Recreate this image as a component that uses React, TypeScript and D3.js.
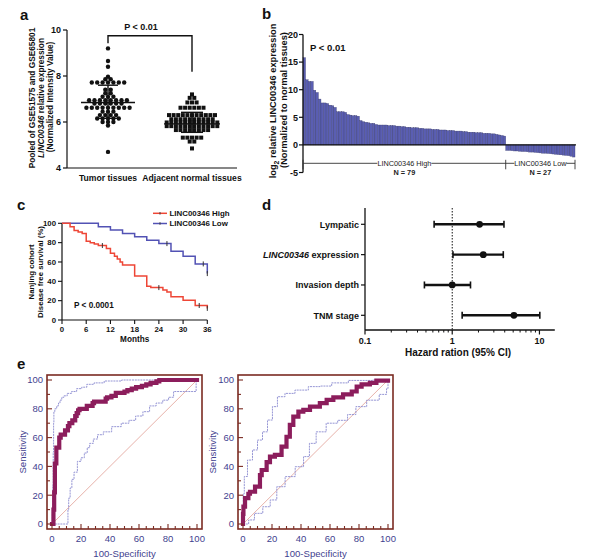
import React from 'react';
import * as d3 from 'd3';

const FONT = "'Liberation Sans', Arial, Helvetica, sans-serif";

// ---------- Panel a ----------
const groupsA = ['Tumor tissues', 'Adjacent normal tissues'];
const ticksA = [4, 6, 8, 10];
const tumorValues = [
  9.2, 8.65, 8.4, 7.97, 7.86, 7.86,
  7.72, 7.72, 7.72, 7.72, 7.72, 7.72, 7.72,
  7.4, 7.4, 7.25, 7.25, 7.1, 7.1, 7.1,
  6.95, 6.95, 6.95, 6.95, 6.95, 6.95, 6.95, 6.95,
  6.8, 6.8, 6.8, 6.8, 6.8, 6.8,
  6.62, 6.62, 6.62, 6.62, 6.62, 6.62, 6.62, 6.62, 6.62,
  6.45, 6.45, 6.45, 6.3, 6.3, 6.3, 6.3,
  6.15, 6.15, 6.15, 6.15, 6.15, 6.0, 6.0, 6.0, 5.85, 4.7,
];
const normalValues = [
  7.2, 7.05, 7.05, 6.85, 6.85, 6.85,
  6.62, 6.62, 6.62, 6.62, 6.62, 6.62,
  6.3, 6.3, 6.3, 6.3, 6.3, 6.3, 6.3, 6.3, 6.3, 6.3, 6.3,
  6.12, 6.12, 6.12, 6.12, 6.12, 6.12, 6.12, 6.12, 6.12, 6.12,
  5.98, 5.98, 5.98, 5.98, 5.98, 5.98, 5.98, 5.98, 5.98, 5.98, 5.98, 5.98,
  5.82, 5.82, 5.82, 5.82, 5.82, 5.82, 5.82, 5.82, 5.82, 5.82, 5.82, 5.82,
  5.65, 5.65, 5.65, 5.65, 5.65, 5.65, 5.65, 5.65,
  5.32, 5.32, 5.32, 5.32, 5.32, 5.15, 5.15, 4.85,
];
const tumorSummary = [6.85, 7.6, 6.16]; // mean, +SD, -SD
const normalSummary = [5.92, 6.42, 5.55];

// ---------- Panel b ----------
const highValues = [
  15.8, 11.8, 11.5, 11.5, 9.9, 9.5, 8.3, 7.6, 7.6, 7.5, 7.2, 7.1, 6.8,
  6.0, 6.0, 6.0, 5.9, 5.5, 5.4, 5.3, 5.3, 5.2, 4.4,
  4.2, 4.1, 4.0, 3.9, 3.9,
  3.7, 3.6, 3.6, 3.6, 3.6, 3.5, 3.5, 3.5,
  3.4, 3.4, 3.3, 3.3, 3.2, 3.2, 3.1, 3.1, 3.1,
  3.0, 3.0, 2.9, 2.9, 2.9, 2.8, 2.8, 2.8, 2.7,
  2.7, 2.7, 2.6, 2.6, 2.6, 2.5, 2.5, 2.5, 2.4,
  2.4, 2.3, 2.3, 2.3, 2.2, 2.2, 2.2, 2.1,
  2.1, 2.1, 2.0, 2.0, 1.9, 1.8, 1.7, 1.6,
];
const lowValues = [
  -1.0, -1.0, -1.05, -1.1, -1.1, -1.15, -1.2, -1.2, -1.25, -1.3, -1.3, -1.35, -1.4,
  -1.45, -1.5, -1.5, -1.55, -1.6, -1.65, -1.7, -1.75, -1.8, -1.85, -1.9, -1.95, -2.05, -2.2,
];
const ticksB = [-5, 0, 5, 10, 15, 20];

// ---------- Panel c ----------
const kmHigh: [number, number][] = [
  [0, 100], [2, 96.5], [3, 92.5], [4, 91], [5, 89.5], [6, 81.5], [7, 80], [8, 78.5], [9, 77],
  [11, 74], [12, 69], [13, 66], [13.7, 63], [14.4, 60], [15, 57], [18, 45.5], [21, 35],
  [22, 33.5], [25, 31], [26, 29], [27, 24], [30, 20.5], [33, 15], [36, 12],
];
const kmLow: [number, number][] = [
  [0, 100], [9, 96.5], [12, 93], [15, 89.5], [18, 86], [21, 82.5], [24, 79], [27, 71],
  [30, 66], [33, 58], [36, 48],
];
const censorHigh = [10, 24, 34, 36];
const censorLow = [26, 35, 36];
const ticksCx = [0, 6, 12, 18, 24, 30, 36];
const ticksCy = [0, 20, 40, 60, 80, 100];

// ---------- Panel d ----------
const forestLabels = ['Lympatic', 'LINC00346 expression', 'Invasion depth', 'TNM stage'];
const forestHR = [2.06, 2.27, 1.0, 5.1];
const forestLo = [0.62, 1.02, 0.48, 1.3];
const forestHi = [3.92, 3.85, 1.62, 10.1];

// ---------- Panel e ----------
const roc1Main: [number, number][] = [
  [0, 0], [1, 0], [1.5, 10], [2, 22], [2, 34], [3, 42], [3, 50], [5, 53], [5, 57], [6, 60], [6, 62],
  [9, 62], [9, 64], [11, 65], [12, 68], [14, 70], [16, 72], [17, 75], [18, 77], [19, 79], [21, 80],
  [24, 80], [28, 82], [29, 84], [33, 85], [37, 85], [38, 87], [41, 88], [44, 89], [46, 91], [50, 91],
  [52, 92], [55, 93], [58, 94], [62, 95], [65, 96], [68, 97], [72, 98], [74, 99], [77, 100], [100, 100],
];
const roc1Upper: [number, number][] = [
  [0, 0], [0.5, 8], [0.7, 27], [1, 50], [1.2, 70], [1.4, 78], [2.5, 80], [4, 82], [5, 84], [6, 86],
  [7.5, 88], [9, 89], [12, 90.7], [15, 92], [19, 94], [22, 95], [26, 97], [32, 98], [40, 99.3],
  [56, 100], [100, 100],
];
const roc1Lower: [number, number][] = [
  [0, 0], [11, 0], [11, 10], [12, 18], [13, 25], [14.4, 31], [16, 36], [19, 43.5], [21, 46],
  [23.6, 49.3], [25, 53], [27, 56], [30, 59], [32.8, 62], [38, 64], [44.3, 67.6], [51.2, 70],
  [55, 72], [60.4, 75], [65, 78], [69.6, 82], [74, 84], [78.8, 86], [82, 88], [85.7, 92],
  [95, 92], [99.4, 92], [99.4, 100], [100, 100],
];
const roc2Main: [number, number][] = [
  [0, 0], [0.3, 7], [1.4, 12], [3.7, 18], [4.8, 21], [8.3, 22.4], [11.7, 26], [12.9, 34],
  [16.3, 37.5], [18.6, 43], [22, 46.8], [26.6, 48], [30, 53.7], [32.3, 60.6], [34.7, 68.8],
  [38.2, 74.5], [41.6, 78], [46.2, 79.2], [53, 81.5], [57.7, 84], [62.3, 86.2], [69, 88],
  [75, 90], [78.4, 92], [81.8, 95.4], [87.5, 97], [92, 98], [100, 99.5],
];
const roc2Upper: [number, number][] = [
  [0, 0], [0.4, 21], [1.4, 33], [4.8, 44.4], [8.3, 51.4], [11.7, 58.3], [15.2, 64], [18.6, 72.2],
  [22, 81.5], [25.5, 88.4], [32.4, 90.7], [39.3, 93], [50.8, 95.4], [55.4, 95.8], [66.9, 98],
  [78.4, 99.7], [100, 100],
];
const roc2Lower: [number, number][] = [
  [0, 0], [2.8, 0], [5, 2.8], [10.8, 7.4], [16.5, 12], [21, 16.7], [25.6, 25.9], [32.5, 32.9],
  [39.5, 39.8], [44, 46.8], [47.6, 56], [53.3, 64], [61.4, 70], [69.2, 72], [75, 76],
  [80.7, 81.5], [89.9, 86], [98, 90], [100, 94], [100, 100],
];
const ticksE = [0, 20, 40, 60, 80, 100];

function swarm(values: number[], spacing: number) {
  const out: { v: number; dx: number }[] = [];
  d3.groups(values, (v) => v).forEach(([v, arr]) => {
    const n = arr.length;
    arr.forEach((_, i) => out.push({ v, dx: (i - (n - 1) / 2) * spacing }));
  });
  return out;
}

function survAt(steps: [number, number][], t: number) {
  let s = steps[0][1];
  for (const [tt, ss] of steps) if (tt <= t) s = ss;
  return s;
}

function RocPanel({ x0, y0, main, upper, lower, labelX }: any) {
  const bw = 155, bh = 154, pad = 5;
  const x = d3.scaleLinear().domain([0, 100]).range([x0 + pad, x0 + bw - pad]);
  const y = d3.scaleLinear().domain([0, 100]).range([y0 + bh - pad, y0 + pad]);
  const lineStep = d3.line<[number, number]>().x((d) => x(d[0])).y((d) => y(d[1])).curve(d3.curveStep);
  const lineMain = d3.line<[number, number]>().x((d) => x(d[0])).y((d) => y(d[1])).curve(d3.curveStepBefore);
  const brown = '#7b2b22';
  const blue = '#3f3f8f';
  const leftTicks = d3.range(0, 101, 10);
  const bottomTicks = d3.range(0, 101, 5);
  return (
    <g>
      <line x1={x(0)} y1={y(0)} x2={x(100)} y2={y(100)} stroke="#e4a9a0" strokeWidth={0.9} />
      <path d={lineStep(upper) || ''} fill="none" stroke="#8a8ad0" strokeWidth={0.9} strokeDasharray="2 0.8" />
      <path d={lineStep(lower) || ''} fill="none" stroke="#8a8ad0" strokeWidth={0.9} strokeDasharray="2 0.8" />
      <path d={lineMain(main) || ''} fill="none" stroke="#4a5ab8" strokeWidth={1} />
      <path d={lineMain(main) || ''} fill="none" stroke="#8c1d5c" strokeWidth={4.2} strokeLinejoin="miter" strokeLinecap="square" />
      <rect x={x0} y={y0} width={bw} height={bh} fill="none" stroke={brown} strokeWidth={1.6} />
      {leftTicks.map((t) => (
        <line key={'l' + t} x1={x0} x2={x0 + (t % 20 === 0 ? 5 : 3)} y1={y(t)} y2={y(t)} stroke={brown} strokeWidth={1.1} />
      ))}
      {bottomTicks.map((t) => (
        <line key={'b' + t} x1={x(t)} x2={x(t)} y1={y0 + bh} y2={y0 + bh - (t % 20 === 0 ? 5 : 3)} stroke={brown} strokeWidth={1.1} />
      ))}
      {ticksE.map((t) => (
        <text key={'yl' + t} x={x0 - 4} y={y(t) + 3.3} textAnchor="end" fontSize={9.5} fill={blue}>{t}</text>
      ))}
      {ticksE.map((t) => (
        <text key={'xl' + t} x={x(t)} y={y0 + bh + 13} textAnchor="middle" fontSize={9.5} fill={blue}>{t}</text>
      ))}
      <text x={x(50)} y={y0 + bh + 28} textAnchor="middle" fontSize={9.6} fill={blue}>100-Specificity</text>
      <text transform={`translate(${labelX},${y(50)}) rotate(-90)`} textAnchor="middle" fontSize={9.6} fill={blue}>Sensitivity</text>
    </g>
  );
}

export default function App() {
  // Panel a
  const yA = d3.scaleLinear().domain([4, 10]).range([168, 30]);
  const xA = d3.scalePoint<string>().domain(groupsA).range([108, 192]);
  const tx = xA(groupsA[0])!, nx = xA(groupsA[1])!;
  const tumorPts = swarm(tumorValues, 5.4);
  const normalPts = swarm(normalValues, 4.6);

  // Panel b
  const allB = [...highValues, ...lowValues];
  const xB = d3.scaleBand<number>().domain(d3.range(allB.length)).range([303, 575]);
  const yB = d3.scaleLinear().domain([-5, 20]).range([172.5, 34.5]);
  const splitX = xB(highValues.length)!;
  const bracketY = 163.3;

  // Panel c
  const xC = d3.scaleLinear().domain([0, 36]).range([62, 207.3]);
  const yC = d3.scaleLinear().domain([0, 100]).range([320, 223.3]);
  const km = d3.line<[number, number]>().x((d) => xC(d[0])).y((d) => yC(d[1])).curve(d3.curveStepAfter);
  const red = '#ee4636';
  const kblue = '#5252b4';

  // Panel d
  const xD = d3.scaleLog().domain([0.1, 15]).range([365, 554.8]);
  const yD = d3.scalePoint<string>().domain(forestLabels).range([224.3, 315.3]);
  const minorD = [0.2, 0.3, 0.4, 0.5, 0.6, 0.7, 0.8, 0.9, 2, 3, 4, 5, 6, 7, 8, 9];

  return (
    <svg width={592} height={560} style={{ position: 'absolute', left: 0, top: 0, background: '#fff' }} fontFamily={FONT}>
      <rect x={0} y={0} width={592} height={560} fill="#fff" />
      {/* panel letters */}
      <g fontWeight="bold" fontSize={15} fill="#111">
        <text x={20} y={19.5}>a</text>
        <text x={262} y={18.5}>b</text>
        <text x={17} y={209.5}>c</text>
        <text x={262} y={209.5}>d</text>
        <text x={17} y={368.5}>e</text>
      </g>

      {/* ---------- Panel a ---------- */}
      <g fontWeight="bold" fill="#111">
        <line x1={67} y1={yA(10)} x2={67} y2={yA(4)} stroke="#111" strokeWidth={1.2} />
        <line x1={67} y1={yA(4)} x2={237} y2={yA(4)} stroke="#111" strokeWidth={1.2} />
        {ticksA.map((t) => (
          <g key={t}>
            <line x1={63} x2={67} y1={yA(t)} y2={yA(t)} stroke="#111" strokeWidth={1.2} />
            <text x={61} y={yA(t) + 3.3} textAnchor="end" fontSize={9}>{t}</text>
          </g>
        ))}
        <text x={tx} y={181} textAnchor="middle" fontSize={8.6}>{groupsA[0]}</text>
        <text x={nx} y={181} textAnchor="middle" fontSize={8.6}>{groupsA[1]}</text>
        <text transform={`translate(35,98) rotate(-90)`} textAnchor="middle" fontSize={8.3}>Pooled of GSE51575 and GSE65801</text>
        <text transform={`translate(44,98) rotate(-90)`} textAnchor="middle" fontSize={8.3}>
          <tspan fontStyle="italic">LINC00346</tspan> relative expression
        </text>
        <text transform={`translate(53,97) rotate(-90)`} textAnchor="middle" fontSize={8.3}>(Normalized Intensity Value)</text>
        {/* bracket */}
        <path d={`M${tx},43.3 V35.7 H${nx} V71.7`} fill="none" stroke="#111" strokeWidth={1.4} />
        <text x={(tx + nx) / 2 - 9} y={30} textAnchor="middle" fontSize={9}>P &lt; 0.01</text>
        {tumorPts.map((p, i) => (
          <circle key={'t' + i} cx={tx + p.dx} cy={yA(p.v)} r={2.2} fill="#111" />
        ))}
        {normalPts.map((p, i) => (
          <rect key={'n' + i} x={nx + p.dx - 2} y={yA(p.v) - 2} width={4} height={4} fill="#111" />
        ))}
        {/* mean & SD */}
        <line x1={tx - 27} x2={tx + 27} y1={yA(tumorSummary[0])} y2={yA(tumorSummary[0])} stroke="#111" strokeWidth={1.4} />
        <line x1={tx - 10} x2={tx + 10} y1={yA(tumorSummary[1])} y2={yA(tumorSummary[1])} stroke="#111" strokeWidth={1.4} />
        <line x1={tx - 10} x2={tx + 10} y1={yA(tumorSummary[2])} y2={yA(tumorSummary[2])} stroke="#111" strokeWidth={1.4} />
        <line x1={tx} x2={tx} y1={yA(tumorSummary[1])} y2={yA(tumorSummary[2])} stroke="#111" strokeWidth={1.4} />
        <line x1={nx - 28} x2={nx + 28} y1={yA(normalSummary[0])} y2={yA(normalSummary[0])} stroke="#111" strokeWidth={1.4} />
        <line x1={nx - 11} x2={nx + 11} y1={yA(normalSummary[1])} y2={yA(normalSummary[1])} stroke="#111" strokeWidth={1.4} />
        <line x1={nx - 11} x2={nx + 11} y1={yA(normalSummary[2])} y2={yA(normalSummary[2])} stroke="#111" strokeWidth={1.4} />
        <line x1={nx} x2={nx} y1={yA(normalSummary[1])} y2={yA(normalSummary[2])} stroke="#111" strokeWidth={1.4} />
      </g>

      {/* ---------- Panel b ---------- */}
      <g fill="#111">
        {allB.map((v, i) => (
          <rect key={i} x={xB(i)} y={v >= 0 ? yB(v) : yB(0)} width={xB.bandwidth()} height={Math.abs(yB(v) - yB(0))}
            fill="#5a5eb2" stroke="#3b3d6e" strokeWidth={0.35} />
        ))}
        <line x1={303} x2={576} y1={yB(0)} y2={yB(0)} stroke="#111" strokeWidth={1.3} />
        <line x1={303} x2={303} y1={yB(20)} y2={yB(-5)} stroke="#111" strokeWidth={1.3} />
        {ticksB.map((t) => (
          <g key={t}>
            <line x1={299} x2={303} y1={yB(t)} y2={yB(t)} stroke="#111" strokeWidth={1.2} />
            <text x={298} y={yB(t) + 3.3} textAnchor="end" fontSize={9} fontWeight="bold">{t}</text>
          </g>
        ))}
        <text x={310} y={51} fontSize={9.5} fontWeight="bold">P &lt; 0.01</text>
        <text transform={`translate(276,101) rotate(-90)`} textAnchor="middle" fontSize={9.3} fontWeight="bold">
          log<tspan fontSize={6.8} dy={2.5}>2</tspan><tspan dy={-2.5}> relative LINC00346 expression</tspan>
        </text>
        <text transform={`translate(287,100) rotate(-90)`} textAnchor="middle" fontSize={9.3} fontWeight="bold">(Normalized to normal tissues)</text>
        {/* group bracket */}
        <line x1={303} x2={575} y1={bracketY} y2={bracketY} stroke="#333" strokeWidth={0.9} />
        {[303, splitX, 575].map((bx, i) => (
          <line key={i} x1={bx} x2={bx} y1={bracketY - 3.5} y2={bracketY + 6} stroke="#333" strokeWidth={0.9} />
        ))}
        <rect x={(303 + splitX) / 2 - 27} y={bracketY - 4} width={54} height={8} fill="#fff" />
        <rect x={(splitX + 575) / 2 - 26} y={bracketY - 4} width={52} height={8} fill="#fff" />
        <text x={(303 + splitX) / 2} y={bracketY + 2.6} textAnchor="middle" fontSize={7.3} fill="#222">LINC00346 High</text>
        <text x={(303 + splitX) / 2} y={bracketY + 12} textAnchor="middle" fontSize={7.3} fontWeight="bold" fill="#222">N = {highValues.length}</text>
        <text x={(splitX + 575) / 2} y={bracketY + 2.6} textAnchor="middle" fontSize={7.3} fill="#222">LINC00346 Low</text>
        <text x={(splitX + 575) / 2} y={bracketY + 12} textAnchor="middle" fontSize={7.3} fontWeight="bold" fill="#222">N = {lowValues.length}</text>
      </g>

      {/* ---------- Panel c ---------- */}
      <g fontWeight="bold" fill="#111">
        <line x1={xC(0)} x2={xC(0)} y1={yC(100)} y2={yC(0)} stroke="#111" strokeWidth={1.2} />
        <line x1={xC(0)} x2={xC(36)} y1={yC(0)} y2={yC(0)} stroke="#111" strokeWidth={1.2} />
        {ticksCy.map((t) => (
          <g key={'cy' + t}>
            <line x1={xC(0) - 4} x2={xC(0)} y1={yC(t)} y2={yC(t)} stroke="#111" strokeWidth={1.1} />
            <text x={xC(0) - 6} y={yC(t) + 2.8} textAnchor="end" fontSize={7.8}>{t}</text>
          </g>
        ))}
        {ticksCx.map((t) => (
          <g key={'cx' + t}>
            <line x1={xC(t)} x2={xC(t)} y1={yC(0)} y2={yC(0) + 4} stroke="#111" strokeWidth={1.1} />
            <text x={xC(t)} y={yC(0) + 11.5} textAnchor="middle" fontSize={7.8}>{t}</text>
          </g>
        ))}
        <text x={xC(18)} y={342} textAnchor="middle" fontSize={8.2}>Months</text>
        <text transform={`translate(34,272) rotate(-90)`} textAnchor="middle" fontSize={7.8}>Nanjing cohort</text>
        <text transform={`translate(42.5,272) rotate(-90)`} textAnchor="middle" fontSize={7.8}>Disease free survival (%)</text>
        <path d={km(kmLow) || ''} fill="none" stroke={kblue} strokeWidth={1.5} />
        <path d={km(kmHigh) || ''} fill="none" stroke={red} strokeWidth={1.5} />
        {censorHigh.map((t, i) => (
          <line key={'ch' + i} x1={xC(t)} x2={xC(t)} y1={yC(survAt(kmHigh, t)) - 2.5} y2={yC(survAt(kmHigh, t)) + 2.5} stroke="#333" strokeWidth={1} />
        ))}
        {censorLow.map((t, i) => (
          <line key={'cl' + i} x1={xC(t)} x2={xC(t)} y1={yC(survAt(kmLow, t)) - 2.5} y2={yC(survAt(kmLow, t)) + 2.5} stroke="#333" strokeWidth={1} />
        ))}
        <text x={74} y={308} fontSize={8.2}>P &lt; 0.0001</text>
        {/* legend */}
        <line x1={153} x2={167} y1={213.3} y2={213.3} stroke={red} strokeWidth={1.5} />
        <line x1={160} x2={160} y1={212} y2={214.6} stroke="#333" strokeWidth={0.9} />
        <text x={169.5} y={216.2} fontSize={7.9}>LINC00346 High</text>
        <line x1={153} x2={167} y1={223.5} y2={223.5} stroke={kblue} strokeWidth={1.5} />
        <line x1={160} x2={160} y1={222.2} y2={224.8} stroke="#333" strokeWidth={0.9} />
        <text x={169.5} y={226.4} fontSize={7.9}>LINC00346 Low</text>
      </g>

      {/* ---------- Panel d ---------- */}
      <g fontWeight="bold" fill="#111">
        <line x1={365} x2={365} y1={208} y2={330} stroke="#111" strokeWidth={1.3} />
        <line x1={365} x2={554.8} y1={330} y2={330} stroke="#111" strokeWidth={1.3} />
        <line x1={xD(1)} x2={xD(1)} y1={208} y2={330} stroke="#111" strokeWidth={1} strokeDasharray="1.5 1.5" />
        {[0.1, 1, 10].map((t) => (
          <g key={'dt' + t}>
            <line x1={xD(t)} x2={xD(t)} y1={330} y2={334.5} stroke="#111" strokeWidth={1.2} />
            <text x={xD(t)} y={344} textAnchor="middle" fontSize={9}>{t}</text>
          </g>
        ))}
        {minorD.map((t) => (
          <line key={'dm' + t} x1={xD(t)} x2={xD(t)} y1={330} y2={332.5} stroke="#111" strokeWidth={1} />
        ))}
        <text x={458} y={356} textAnchor="middle" fontSize={10}>Hazard ration (95% CI)</text>
        {forestLabels.map((lab, i) => {
          const yy = yD(lab)!;
          return (
            <g key={lab}>
              <line x1={361} x2={365} y1={yy} y2={yy} stroke="#111" strokeWidth={1.2} />
              <text x={359} y={yy + 3.2} textAnchor="end" fontSize={9}>
                {lab.startsWith('LINC') ? (
                  <><tspan fontStyle="italic">LINC00346</tspan> expression</>
                ) : lab}
              </text>
              <line x1={xD(forestLo[i])} x2={xD(forestHi[i])} y1={yy} y2={yy} stroke="#111" strokeWidth={2.4} />
              <line x1={xD(forestLo[i])} x2={xD(forestLo[i])} y1={yy - 3.5} y2={yy + 3.5} stroke="#111" strokeWidth={1.6} />
              <line x1={xD(forestHi[i])} x2={xD(forestHi[i])} y1={yy - 3.5} y2={yy + 3.5} stroke="#111" strokeWidth={1.6} />
              <circle cx={xD(forestHR[i])} cy={yy} r={3.4} fill="#111" />
            </g>
          );
        })}
      </g>

      {/* ---------- Panel e ---------- */}
      <RocPanel x0={47} y0={375} main={roc1Main} upper={roc1Upper} lower={roc1Lower} labelX={26} />
      <RocPanel x0={238} y0={375} main={roc2Main} upper={roc2Upper} lower={roc2Lower} labelX={216} />
    </svg>
  );
}
